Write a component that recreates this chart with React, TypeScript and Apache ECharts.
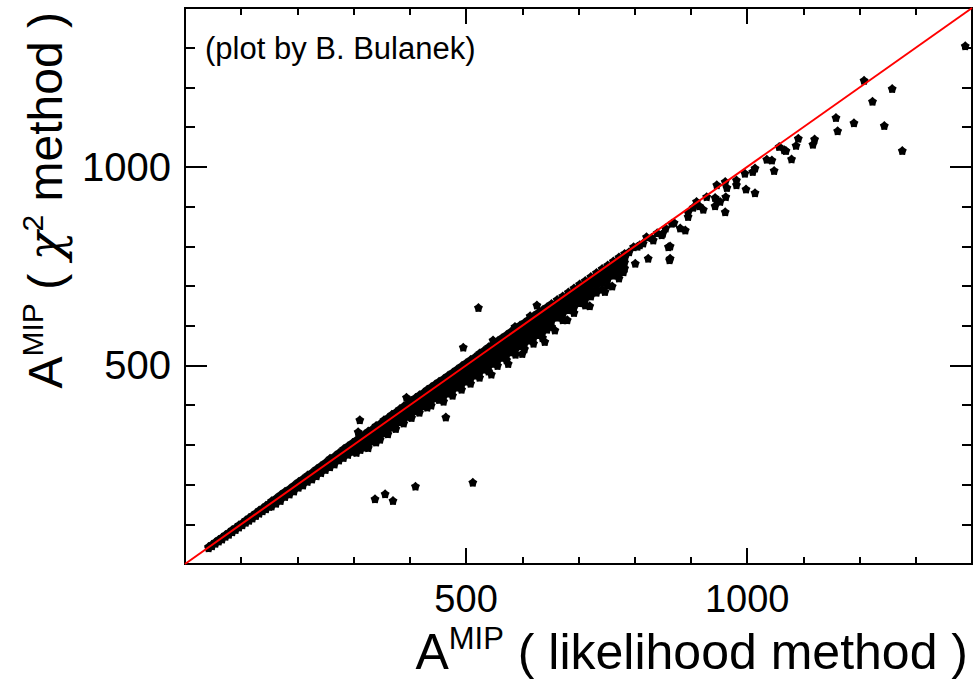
import React, { useEffect, useRef } from 'react';
import * as echarts from 'echarts';

const AXIS_MIN = 0;
const AXIS_MAX = 1400;
const labelledTicks = [500, 1000];

// dense band: [likelihood value, chi2 values at that likelihood]
const bandRows: [number, number[]][] = [
  [42, [44, 41]], [48, [50, 46]], [54, [56, 52]], [60, [62, 58]], [66, [68, 63]],
  [72, [74, 70]], [78, [80, 75]], [84, [87, 81]], [90, [92, 87]], [96, [99, 93]],
  [102, [104, 99]], [108, [111, 105]], [114, [117, 110]], [120, [123, 116]], [126, [129, 122]],
  [132, [136, 128]], [138, [141, 134]], [144, [148, 139]], [150, [153, 145]],
  [154, [159, 152, 146]], [162, [166, 160, 153]], [170, [175, 168, 160]], [178, [183, 176, 170]],
  [186, [190, 184, 176]], [194, [199, 192, 184]], [202, [208, 200, 193]], [210, [215, 207, 199]],
  [218, [224, 216, 208]], [226, [231, 223, 214]], [234, [240, 232, 222]], [242, [248, 240, 230]],
  [250, [256, 248, 238]], [258, [266, 256, 245]], [266, [272, 263, 252]], [274, [281, 272, 262]],
  [282, [290, 280, 268]], [290, [298, 288, 276]], [298, [306, 296, 283]],
  [305, [313, 306, 298, 290, 281]], [312, [320, 312, 305, 297, 288]], [319, [327, 320, 311, 303, 294]],
  [326, [335, 327, 318, 311, 301, 293]], [333, [340, 334, 325, 317, 309]], [340, [349, 341, 333, 325, 316, 307]],
  [347, [354, 348, 339, 331, 322, 314]], [354, [363, 355, 347, 339, 330]], [361, [369, 362, 354, 346, 337, 328]],
  [368, [377, 369, 361, 352, 344]], [375, [383, 376, 368, 360, 350, 341]], [382, [391, 383, 375, 366, 358]],
  [389, [398, 390, 382, 373, 364, 355]], [396, [404, 397, 388, 380, 371]], [403, [412, 404, 396, 387, 378, 369]],
  [410, [419, 411, 403, 394, 385]], [417, [426, 418, 410, 401, 392, 382]], [424, [432, 425, 416, 408, 398]],
  [431, [440, 432, 424, 414, 405, 395]], [438, [446, 439, 430, 421, 411, 400]], [445, [453, 446, 437, 428, 418]],
  [452, [460, 452, 443, 434, 424, 414]], [460, [467, 460, 451, 442, 432, 422, 410]], [468, [475, 468, 459, 450, 440, 430]],
  [476, [483, 476, 467, 457, 447, 437, 425]], [484, [491, 484, 474, 465, 455, 445]], [492, [499, 492, 482, 473, 462, 452, 440]],
  [500, [507, 500, 490, 481, 470, 460]], [508, [515, 508, 498, 488, 478, 467, 455]], [516, [522, 515, 506, 496, 486, 475]],
  [524, [531, 523, 514, 504, 493, 482, 470]], [532, [538, 531, 521, 511, 501, 490]], [540, [547, 539, 529, 519, 508, 497, 486]],
  [548, [554, 547, 537, 527, 516, 505]], [556, [562, 554, 545, 534, 523, 512, 500]], [564, [570, 563, 553, 542, 531, 520]],
  [572, [578, 570, 560, 550, 538, 527, 514]], [580, [586, 579, 568, 558, 546, 534]], [588, [594, 586, 576, 565, 554, 541, 528]],
  [596, [602, 594, 584, 573, 561, 549]], [604, [609, 602, 592, 580, 568, 556, 542]], [612, [617, 610, 599, 588, 576, 563]],
  [620, [625, 618, 607, 596, 583, 570, 556]], [628, [633, 625, 615, 603, 590, 577]], [636, [640, 633, 622, 611, 598, 584, 570]],
  [644, [648, 641, 630, 618, 605, 591]],
  [652, [656, 648, 638, 626, 612, 598]], [662, [666, 658, 647, 635, 621]], [672, [675, 668, 657, 645, 630, 615]],
  [682, [685, 677, 666, 654, 640]], [692, [695, 687, 676, 663, 648, 633]], [702, [705, 697, 686, 673, 658]],
  [712, [714, 706, 695, 682, 667, 652]], [722, [724, 716, 704, 690, 675]], [732, [734, 726, 714, 700, 684]],
  [742, [744, 736, 723, 709, 692]], [752, [753, 745, 733, 718, 702]], [762, [763, 755, 742, 727]],
  [772, [773, 764, 751, 736, 720]], [782, [782, 774, 760, 745]],
];

const sparsePoints: [number, number][] = [
  [545, 478], [575, 505], [600, 530], [640, 560], [658, 589], [680, 615], [691, 644], [720, 650], [747, 686],
  [760, 700], [780, 736], [464, 370],
  [783, 774], [790, 786], [798, 799], [801, 757], [805, 800], [809, 804], [815, 808], [821, 824], [824, 770],
  [830, 822], [833, 816], [840, 834], [848, 829], [850, 833], [855, 846], [860, 799], [862, 766], [863, 801],
  [863, 770], [866, 858], [870, 860], [881, 846], [890, 841], [895, 875], [895, 886], [904, 898], [910, 913],
  [915, 902], [922, 893], [928, 925], [943, 923], [943, 902], [946, 955], [946, 917], [952, 913], [961, 963],
  [961, 887], [962, 925], [964, 948], [981, 967], [981, 955], [996, 984], [998, 944], [1010, 988], [1014, 997],
  [1014, 935], [1035, 1019], [1044, 1017], [1048, 991], [1057, 1051], [1066, 1043], [1069, 1041], [1079, 1020],
  [1087, 1054], [1091, 1072], [1117, 1057], [1120, 1070], [1158, 1124], [1161, 1091], [1190, 1111], [1208, 1218],
  [1223, 1165], [1244, 1104], [1258, 1197], [1276, 1041], [1388, 1305],
];

const outlierPoints: [number, number][] = [
  [311, 363], [308, 333], [394, 420], [495, 546], [522, 646], [548, 564], [587, 598], [614, 625], [626, 652],
  [338, 164], [356, 177], [370, 160], [410, 196], [512, 206],
];

const diagonal: [number, number][] = [[AXIS_MIN, AXIS_MIN], [AXIS_MAX, AXIS_MAX]];

const FONT = 'Liberation Sans, Arial, Helvetica, sans-serif';
const STAR =
  'path://M0,-10 L4.4,-6 L9.51,-3.09 L7.1,2.3 L5.88,8.09 L0,7.5 L-5.88,8.09 L-7.1,2.3 L-9.51,-3.09 L-4.4,-6 Z';

function buildAxes(dim: 'x' | 'y') {
  const [mainPos, mirrorPos] = dim === 'x' ? ['bottom', 'top'] : ['left', 'right'];
  const majorLen = dim === 'x' ? 16 : 22;
  const minorLen = dim === 'x' ? 7 : 10;
  const base = {
    type: 'value',
    min: AXIS_MIN,
    max: AXIS_MAX,
    splitLine: { show: false },
    axisLine: { show: true, onZero: false, lineStyle: { color: '#000', width: 2 } },
  };
  const tick = (len: number) => ({ show: true, inside: true, length: len, lineStyle: { color: '#000', width: 2 } });
  const noLabel = { show: false };
  return [
    { ...base, position: mainPos, interval: 100, axisTick: tick(minorLen), axisLabel: noLabel },
    {
      ...base,
      position: mainPos,
      interval: 500,
      axisTick: tick(majorLen),
      axisLabel: {
        show: true,
        color: '#000',
        fontSize: dim === 'x' ? 38 : 40,
        fontFamily: FONT,
        margin: dim === 'x' ? 16 : 14,
        formatter: (v: number) => (labelledTicks.includes(v) ? String(v) : ''),
      },
    },
    { ...base, position: mirrorPos, interval: 100, axisTick: tick(minorLen), axisLabel: noLabel },
    { ...base, position: mirrorPos, interval: 500, axisTick: tick(majorLen), axisLabel: noLabel },
  ];
}

function richFor(size: number, sup: number) {
  return {
    a: { fontSize: size, fontFamily: FONT, fill: '#000', lineHeight: size + 8 },
    s: { fontSize: sup, fontFamily: FONT, fill: '#000', lineHeight: sup, verticalAlign: 'top' },
    b: { fontSize: size, fontFamily: FONT, fill: '#000', lineHeight: size + 8 },
    c: {
      fontSize: size,
      fontFamily: 'DejaVu Serif, serif',
      fontStyle: 'italic',
      fill: '#000',
      lineHeight: size + 8,
    },
  };
}

export default function App() {
  const ref = useRef<HTMLDivElement>(null);
  useEffect(() => {
    if (!ref.current) return;
    const chart = echarts.init(ref.current, null, { renderer: 'svg' });
    const points: [number, number][] = [];
    bandRows.forEach(([x, ys]) => ys.forEach((y) => points.push([x, y])));
    sparsePoints.forEach((p) => points.push(p));
    outlierPoints.forEach((p) => points.push(p));

    chart.setOption({
      animation: false,
      backgroundColor: '#fff',
      grid: { left: 185, top: 8, width: 787, height: 556, containLabel: false },
      xAxis: buildAxes('x'),
      yAxis: buildAxes('y'),
      series: [
        {
          type: 'scatter',
          xAxisIndex: 0,
          yAxisIndex: 0,
          data: points,
          symbol: STAR,
          symbolSize: 9,
          itemStyle: { color: '#000', opacity: 1 },
          z: 2,
        },
        {
          type: 'line',
          xAxisIndex: 0,
          yAxisIndex: 0,
          data: diagonal,
          symbol: 'none',
          lineStyle: { color: '#ff0000', width: 2 },
          z: 5,
        },
      ],
      graphic: [
        {
          type: 'text',
          x: 205,
          y: 48,
          style: { text: '(plot by B. Bulanek)', fontSize: 31, fontFamily: FONT, fill: '#000', verticalAlign: 'middle' },
        },
        {
          type: 'text',
          x: 968,
          y: 652,
          style: {
            text: '{a|A}{s|MIP}{b| ( likelihood method )}',
            align: 'right',
            verticalAlign: 'middle',
            rich: richFor(50, 31),
          },
        },
        {
          type: 'text',
          x: 45,
          y: 12,
          rotation: Math.PI / 2,
          style: {
            text: '{a|A}{s|MIP}{b| ( }{c|χ}{s|2}{b| method )}',
            align: 'right',
            verticalAlign: 'middle',
            rich: richFor(48, 30),
          },
        },
      ],
    });
    return () => chart.dispose();
  }, []);
  return <div ref={ref} style={{ position: 'fixed', left: 0, top: 0, width: 975, height: 680 }} />;
}
